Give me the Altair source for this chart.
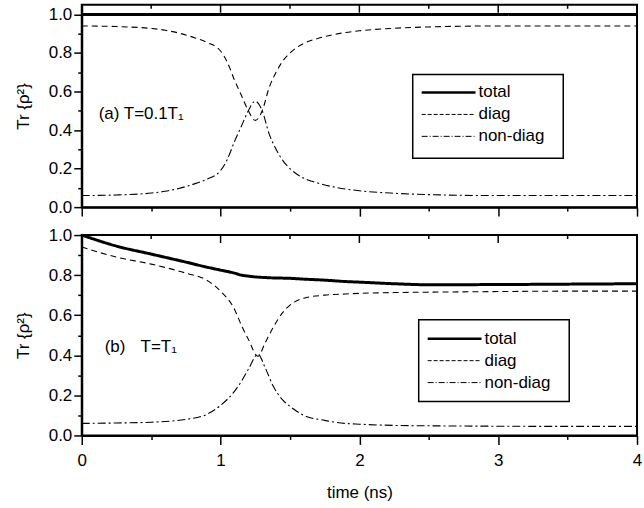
import altair as alt
import pandas as pd

SERIES = ["total", "diag", "non-diag"]

# ---- panel (a): T = 0.1 T1 ----
T_A = [0, 0.25, 0.5, 0.6, 0.7, 0.8, 0.9, 1.0, 1.05, 1.1, 1.15, 1.2, 1.25, 1.3,
       1.35, 1.4, 1.45, 1.5, 1.6, 1.7, 1.8, 1.9, 2.0, 2.25, 2.5, 3.0, 3.5, 4.0]
TOTAL_A = [1.0, 1.0, 1.0, 1.0, 1.0, 1.0, 1.0, 1.0, 1.0, 1.0, 1.0, 1.0, 1.0, 1.0,
           1.0, 1.0, 1.0, 1.0, 1.0, 1.0, 1.0, 1.0, 1.0, 1.0, 1.0, 1.0, 1.0, 1.0]
DIAG_A = [0.94, 0.937, 0.927, 0.918, 0.903, 0.882, 0.855, 0.81, 0.75, 0.66, 0.58,
          0.50, 0.45, 0.50, 0.62, 0.70, 0.76, 0.80, 0.85, 0.875, 0.893, 0.906,
          0.915, 0.928, 0.935, 0.94, 0.94, 0.94]
NONDIAG_A = [0.06, 0.063, 0.073, 0.082, 0.097, 0.118, 0.145, 0.19, 0.25, 0.34,
             0.42, 0.50, 0.55, 0.50, 0.38, 0.30, 0.24, 0.20, 0.15, 0.125, 0.107,
             0.094, 0.085, 0.072, 0.065, 0.06, 0.06, 0.06]

# ---- panel (b): T = T1 ----
T_B = [0, 0.25, 0.5, 0.75, 0.9, 1.0, 1.1, 1.15, 1.2, 1.27, 1.32, 1.38, 1.45,
       1.5, 1.6, 1.75, 1.9, 2.0, 2.25, 2.5, 3.0, 3.5, 4.0]
TOTAL_B = [1.0, 0.945, 0.905, 0.865, 0.84, 0.825, 0.81, 0.80, 0.795, 0.79, 0.788,
           0.786, 0.785, 0.784, 0.78, 0.775, 0.768, 0.765, 0.757, 0.752, 0.753,
           0.755, 0.757]
DIAG_B = [0.94, 0.89, 0.855, 0.81, 0.775, 0.72, 0.63, 0.55, 0.48, 0.395, 0.46,
          0.54, 0.615, 0.65, 0.685, 0.70, 0.706, 0.709, 0.713, 0.715, 0.718,
          0.72, 0.72]
NONDIAG_B = [0.06, 0.062, 0.066, 0.08, 0.105, 0.15, 0.22, 0.27, 0.33, 0.405, 0.34,
             0.245, 0.175, 0.145, 0.10, 0.075, 0.06, 0.056, 0.05, 0.048, 0.046,
             0.045, 0.045]

X_TICKS = [0, 0.5, 1, 1.5, 2, 2.5, 3, 3.5, 4]
X_MAJOR = [0, 1, 2, 3, 4]
X_MINOR = [0.5, 1.5, 2.5, 3.5]
Y_TICKS = [0, 0.1, 0.2, 0.3, 0.4, 0.5, 0.6, 0.7, 0.8, 0.9, 1.0]

LABEL_A = "(a) T=0.1T\u2081"
LABEL_B1 = "(b)"
LABEL_B2 = "T=T\u2081"
X_TITLE = "time (ns)"
Y_TITLE = "Tr {\u03c1\u00b2}"

DASH = {"total": [1, 0], "diag": [6, 4], "non-diag": [8, 3, 2, 3]}
LW = {"total": 3, "diag": 1.1, "non-diag": 1.1}
LEG_DASH = {"total": [1, 0], "diag": [4, 2], "non-diag": [6, 2, 1, 2]}
LEG_LW = {"total": 2.5, "diag": 1, "non-diag": 1}

W = 557
FONT = "Liberation Sans"


def long_df(t, total, diag, nondiag):
    rows = []
    for name, vals in zip(SERIES, [total, diag, nondiag]):
        for ti, v in zip(t, vals):
            rows.append({"time": ti, "value": v, "series": name})
    return pd.DataFrame(rows)


def y_axis():
    return alt.Axis(
        values=Y_TICKS,
        labelExpr="round(datum.value*10) % 2 == 0 ? format(datum.value, '.1f') : ''",
        tickSize={"condition": {"test": "round(datum.value*10) % 2 == 1", "value": 4}, "value": 8},
        labelPadding=2, title=Y_TITLE, titlePadding=16, labelOverlap=False,
        labelFlush=False,
    )


def x_axis(show_labels):
    if show_labels:
        return alt.Axis(
            values=X_TICKS,
            labelExpr="datum.value % 1 == 0 ? format(datum.value, 'd') : ''",
            tickSize={"condition": {"test": "datum.value % 1 != 0", "value": 4}, "value": 9},
            labelPadding=8, title=X_TITLE, titlePadding=16, labelOverlap=False,
            labelFlush=False,
        )
    return alt.Axis(
        values=X_TICKS, labels=False,
        tickSize={"condition": {"test": "datum.value % 1 != 0", "value": 4}, "value": 9},
        title=None,
    )


def panel(df, ydom, h, show_x_labels, legend_pos, texts):
    xs = alt.Scale(domain=[0, 4], nice=False, zero=False)
    layers = []
    for s in SERIES:
        layers.append(
            alt.Chart(df[df.series == s]).mark_line(
                color="black", strokeDash=DASH[s], strokeWidth=LW[s], interpolate="monotone"
            ).encode(
                x=alt.X("time:Q", scale=xs, axis=x_axis(show_x_labels)),
                y=alt.Y("value:Q", scale=alt.Scale(domain=ydom, nice=False, zero=False),
                        axis=y_axis()),
            )
        )
    # inward ticks on the top frame
    for vals, ln in ((X_MAJOR, 8), (X_MINOR, 4)):
        layers.append(
            alt.Chart(pd.DataFrame({"time": vals})).mark_rule(color="black", strokeWidth=1.5)
            .encode(x=alt.X("time:Q", scale=xs, axis=x_axis(show_x_labels)),
                    y=alt.value(0), y2=alt.value(ln))
        )
    # legend box
    bx0, bx1, by0, by1, lx0, lx1, rows = legend_pos
    layers.append(
        alt.Chart(pd.DataFrame({"k": [0]})).mark_rect(
            fill="white", stroke="black", strokeWidth=1.5
        ).encode(x=alt.value(bx0), x2=alt.value(bx1), y=alt.value(by0), y2=alt.value(by1))
    )
    for s, ry in zip(SERIES, rows):
        d = pd.DataFrame({"label": [s]})
        layers.append(
            alt.Chart(d).mark_rule(color="black", strokeDash=LEG_DASH[s], strokeWidth=LEG_LW[s])
            .encode(x=alt.value(lx0), x2=alt.value(lx1), y=alt.value(ry))
        )
        layers.append(
            alt.Chart(d).mark_text(align="left", baseline="middle", fontSize=17,
                                   font=FONT, color="black")
            .encode(x=alt.value(lx1 + 3), y=alt.value(ry), text="label:N")
        )
    for txt, tx, ty in texts:
        layers.append(
            alt.Chart(pd.DataFrame({"label": [txt]})).mark_text(
                align="left", baseline="middle", fontSize=17, font=FONT, color="black"
            ).encode(x=alt.value(tx), y=alt.value(ty), text="label:N")
        )
    return alt.layer(*layers).properties(width=W, height=h)


top = panel(
    long_df(T_A, TOTAL_A, DIAG_A, NONDIAG_A), [0, 1.05], 203, False,
    (332, 483, 70, 154, 341, 395, [88, 110, 132]),
    [(LABEL_A, 17, 110)],
)
bottom = panel(
    long_df(T_B, TOTAL_B, DIAG_B, NONDIAG_B), [0, 1.0], 201, True,
    (338, 489, 85, 167, 347, 401, [104, 126, 148]),
    [(LABEL_B1, 23, 112), (LABEL_B2, 59, 112)],
)

chart = alt.vconcat(top, bottom, spacing=7).properties(
    padding={"left": 13, "top": 2, "right": 0, "bottom": 0}
).configure(font=FONT).configure_view(
    stroke="black", strokeWidth=2
).configure_axis(
    domainColor="black", domainWidth=2, tickColor="black", tickWidth=1.5,
    labelColor="black", titleColor="black", labelFontSize=17, titleFontSize=17,
    titleFontWeight="normal", grid=False, labelFont=FONT, titleFont=FONT,
)

chart.save("out.html", embed_options={"renderer": "svg", "actions": False})
